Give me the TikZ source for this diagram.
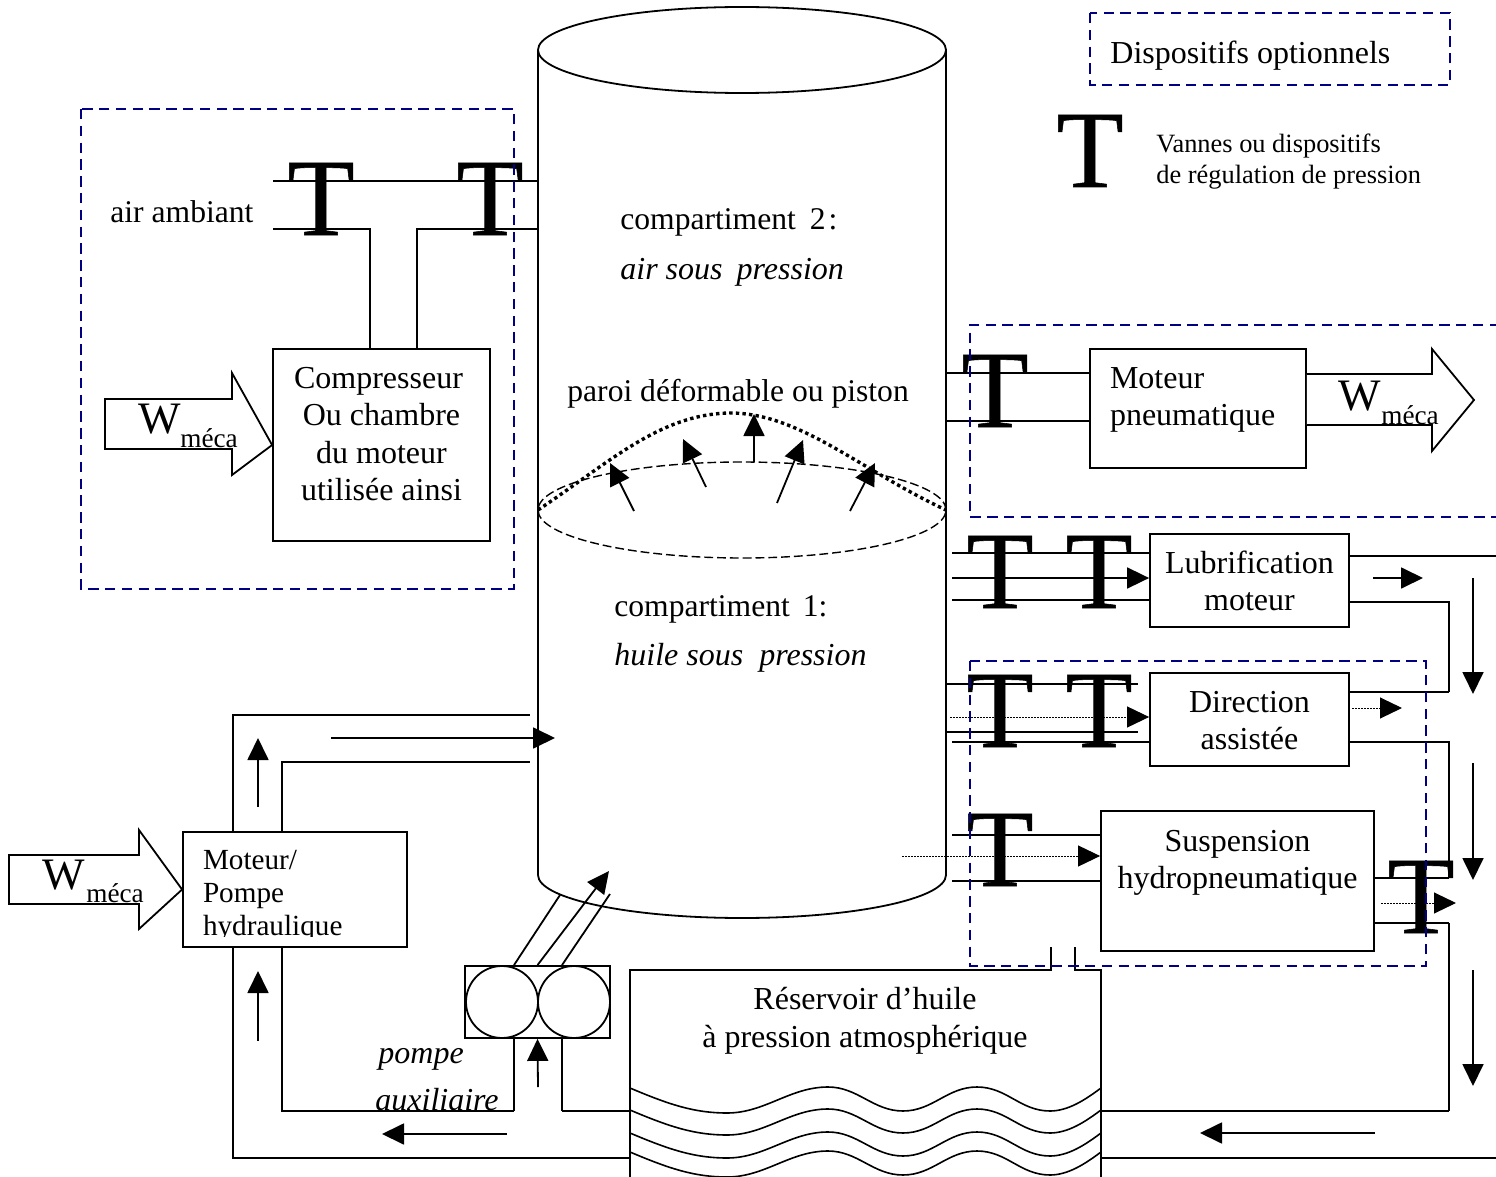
\documentclass[tikz,border=0pt]{standalone}
\usepackage{fontspec}
\setmainfont{Liberation Serif}
\newfontfamily\valvefont[FakeBold=0.5]{Liberation Serif}
\usetikzlibrary{arrows.meta}
\definecolor{optblue}{RGB}{0,0,128}
\tikzset{
  pipe/.style={line width=0.9pt,black},
  flow/.style={line width=0.9pt,-{Triangle[length=11pt,width=10.5pt]}},
  dotflow/.style={line width=0.5pt,dash pattern=on 0.75pt off 0.75pt,-{Triangle[length=11pt,width=10.5pt]}},
  optbox/.style={draw=optblue,line width=1pt,dash pattern=on 5.2pt off 3.2pt},
  devbox/.style={draw,line width=0.9pt,inner xsep=0pt,inner ysep=0pt,align=center,font=\fontsize{16}{18.6}\selectfont},
  leftbox/.style={devbox,inner xsep=10pt,align=left},
  txt/.style={anchor=base west,inner sep=0pt,font=\fontsize{16}{18.6}\selectfont},
  tighttxt/.style={txt,font=\fontsize{15.8}{18.6}\selectfont},
  itxt/.style={txt,font=\fontsize{16}{18.6}\selectfont\itshape},
  smalltxt/.style={txt,font=\fontsize{13.2}{15.6}\selectfont},
  valve/.style={anchor=base,inner sep=0pt,font=\valvefont\fontsize{55}{55}\selectfont},
  wsym/.style={txt,font=\fontsize{22.5}{24}\selectfont},
  wsub/.style={txt,font=\fontsize{13.6}{14}\selectfont},
  wpower/.style={line width=0.9pt,fill=white,draw=black,line join=miter},
}
\begin{document}
\begin{tikzpicture}[x=0.5pt,y=-0.5pt]
\useasboundingbox (0,0) rectangle (1496,1177);

% ---- main vessel
\coordinate (cylTL) at (538,50);
\coordinate (cylTR) at (946,50);
\coordinate (cylBL) at (538,875);
\coordinate (cylBR) at (946,875);
\draw[pipe] (cylTL) -- (cylBL) arc[start angle=180,end angle=360,x radius=102pt,y radius=21.5pt] -- (cylTR);
\draw[pipe] (742,50) ellipse[x radius=102pt,y radius=21.5pt];
\draw[line width=0.7pt,dash pattern=on 4.4pt off 2pt] (742,510) ellipse[x radius=102pt,y radius=24pt];
\draw[line width=1.7pt,dash pattern=on 1.7pt off 1.6pt]
  (cylTL |- 0,510) .. controls (610,462) and (660,414) .. (730,413)
  .. controls (800,413) and (860,470) .. (cylTR |- 0,510);
\node[tighttxt] (c2a) at (620,229) {compartiment\hspace{7pt}2\hspace{1.5pt}:};
\node[itxt] (c2b) at (620,279) {air sous\hspace{7pt}pression};
\node[tighttxt] (paroi) at (567,401) {paroi déformable ou piston};
\node[tighttxt] (c1a) at (614,616) {compartiment\hspace{6.5pt}1:};
\node[itxt] (c1b) at (614,665) {huile sous\hspace{8pt}pression};
\coordinate (p1a) at (634,511); \coordinate (p1b) at (610,463);
\coordinate (p2a) at (706,487); \coordinate (p2b) at (683,439);
\coordinate (p3a) at (754,462); \coordinate (p3b) at (754,414);
\coordinate (p4a) at (777,503); \coordinate (p4b) at (803,440);
\coordinate (p5a) at (850,511); \coordinate (p5b) at (875,463);
\draw[flow] (p1a) -- (p1b);
\draw[flow] (p2a) -- (p2b);
\draw[flow] (p3a) -- (p3b);
\draw[flow] (p4a) -- (p4b);
\draw[flow] (p5a) -- (p5b);

% ---- compressor group
\node[devbox,minimum width=108.5pt,minimum height=96pt] (comp) at (381.5,445)
  {Compresseur\hspace*{3pt}\\Ou chambre\\du moteur\\utilisée ainsi\\[-7.6pt]\mbox{}};
\node[tighttxt] (air) at (110,222) {air ambiant};
\coordinate (airU) at (273,181);
\coordinate (airL) at (273,229);
\coordinate (cmpA) at (370,349);
\coordinate (cmpB) at (417,349);
\draw[pipe] (airU) -- (airU -| cylTL);
\draw[pipe] (airL) -- (airL -| cmpA) -- (cmpA);
\draw[pipe] (cmpB) -- (cmpB |- airL) -- (airL -| cylTL);
\node[valve] (v1) at (321,235) {T};
\node[valve] (v2) at (490,235) {T};
\draw[wpower] (105,399) -- (232,399) -- (232,373) -- (comp.west) -- (232,475) -- (232,449) -- (105,449) -- cycle;
\node[wsym] (w1) at (138,433) {W};
\node[wsub] (m1) at (180,447) {méca};

% ---- pneumatic motor
\node[leftbox,text width=88pt,minimum width=108pt,minimum height=59.5pt] (pneu) at (1198,408.5)
  {Moteur\\pneumatique\\[-6.6pt]\mbox{}};
\coordinate (pnU) at (946,373);
\coordinate (pnL) at (946,421);
\draw[pipe] (pnU) -- (pnU -| pneu.west);
\draw[pipe] (pnL) -- (pnL -| pneu.west);
\node[valve] (v3) at (995,427) {T};
\draw[wpower] (pneu.east |- 0,374) -- (1432,374) -- (1432,349) -- (1474,400) -- (1432,451) -- (1432,425) -- (pneu.east |- 0,425);
\node[wsym] (w2) at (1338,410) {W};
\node[wsub] (m2) at (1381,424) {méca};

% ---- lubrification
\node[devbox,minimum width=99.5pt,minimum height=46.5pt] (lub) at (1249.5,580.5) {Lubrification\\moteur};
\coordinate (luA) at (952,553);
\coordinate (luB) at (952,578);
\coordinate (luC) at (952,600);
\draw[pipe] (luA) -- (luA -| lub.west);
\draw[flow] (luB) -- (luB -| lub.west);
\draw[pipe] (luC) -- (luC -| lub.west);
\node[valve] (v4) at (1000,608) {T};
\node[valve] (v5) at (1099,608) {T};
\coordinate (retR) at (1449,602);
\coordinate (lubOut) at (1496,556);
\coordinate (dirUp) at (1449,692);
\draw[pipe] (lub.east |- lubOut) -- (lubOut);
\draw[pipe] (lub.east |- retR) -- (retR) -- (dirUp);
\coordinate (a1a) at (1373,578); \coordinate (a1b) at (1423,578);
\draw[flow] (a1a) -- (a1b);
\coordinate (a2a) at (1473,578); \coordinate (a2b) at (1473,694);
\draw[flow] (a2a) -- (a2b);

% ---- direction
\node[devbox,minimum width=99.5pt,minimum height=46.5pt] (dir) at (1249.5,719.5) {\rule{0pt}{11.6pt}Direction\\assistée};
\coordinate (diA) at (946,684);  \coordinate (diAe) at (1138,684);
\coordinate (diB) at (946,732);  \coordinate (diBe) at (1138,732);
\coordinate (diC) at (952,742);
\coordinate (diD) at (950,717);
\draw[pipe] (diA) -- (diAe);
\draw[pipe] (diB) -- (diBe);
\draw[pipe] (diC) -- (diC -| dir.west);
\draw[dotflow] (diD) -- (diD -| dir.west);
\node[valve] (v6) at (1000,747) {T};
\node[valve] (v7) at (1099,747) {T};
\draw[pipe] (dir.east |- dirUp) -- (dirUp);
\coordinate (dirDn) at (1449,742);
\coordinate (dirJoin) at (1449,878);
\draw[pipe] (dir.east |- dirDn) -- (dirDn) -- (dirJoin);
\coordinate (a3a) at (1352,708); \coordinate (a3b) at (1402,708);
\draw[dotflow] (a3a) -- (a3b);
\coordinate (a4a) at (1473,763); \coordinate (a4b) at (1473,880);
\draw[flow] (a4a) -- (a4b);

% ---- suspension
\node[devbox,minimum width=136.5pt,minimum height=70pt] (sus) at (1237.5,881) {Suspension\\hydropneumatique\\[3pt]\mbox{}};
\coordinate (suA) at (952,835);
\coordinate (suB) at (952,881);
\coordinate (suD) at (902,856);
\draw[pipe] (suA) -- (suA -| sus.west);
\draw[pipe] (suB) -- (suB -| sus.west);
\draw[dotflow] (suD) -- (suD -| sus.west);
\node[valve] (v8) at (1000,886) {T};
\coordinate (suOutU) at (1449,878);
\coordinate (suOutL) at (1449,923);
\coordinate (retB) at (1449,1111);
\draw[pipe] (sus.east |- suOutU) -- (suOutU);
\draw[pipe] (sus.east |- suOutL) -- (suOutL);
\draw[pipe] (suOutL) -- (retB);
\node[valve] (v9) at (1421,933) {T};
\coordinate (a5a) at (1381,903); \coordinate (a5b) at (1456,903);
\draw[dotflow] (a5a) -- (a5b);
\coordinate (a6a) at (1473,970); \coordinate (a6b) at (1473,1086);
\draw[flow] (a6a) -- (a6b);

% ---- reservoir
\coordinate (resTL) at (630,970);
\coordinate (resTR) at (1101,970);
\coordinate (resBL) at (630,1177);
\coordinate (resBR) at (1101,1177);
\coordinate (stubA) at (1051,970);
\coordinate (stubB) at (1075,970);
\coordinate (stubAt) at (1051,947);
\coordinate (stubBt) at (1075,947);
\draw[pipe] (resBL) -- (resTL) -- (stubA) -- (stubAt);
\draw[pipe] (resBR) -- (resTR) -- (stubB) -- (stubBt);
\node[txt,anchor=base,align=center] (res) at (865,1047) {Réservoir d’huile\\à pression atmosphérique};
\foreach \d in {0,22,45,64}{
  \begin{scope}[shift={(0,\d)}]
    \draw[line width=0.8pt] (630,1088) .. controls (670,1105) and (695,1113) .. (727,1113)
      .. controls (765,1113) and (790,1087) .. (828,1087)
      .. controls (858,1087) and (873,1111) .. (903,1111)
      .. controls (933,1111) and (947,1087) .. (977,1087)
      .. controls (1007,1087) and (1020,1111) .. (1050,1111)
      .. controls (1068,1111) and (1085,1100) .. (1101,1088);
  \end{scope}
}
\coordinate (retC) at (1101,1158);
\coordinate (retCe) at (1496,1158);
\draw[pipe] (resTR |- retB) -- (retB);
\draw[pipe] (retC) -- (retCe);
\coordinate (a7a) at (1375,1133); \coordinate (a7b) at (1200,1133);
\draw[flow] (a7a) -- (a7b);

% ---- hydraulic motor/pump
\node[leftbox,text width=92pt,minimum width=112pt,minimum height=57.5pt,font=\fontsize{14.6}{16.5}\selectfont] (pmp) at (295,889.5)
  {\rule{0pt}{16pt}Moteur/\\Pompe\\hydraulique};
\fill[white] (185,937) rectangle (405,945.5);
\coordinate (hA) at (233,715);
\coordinate (hB) at (282,762);
\coordinate (hAe) at (530,715);
\coordinate (hBe) at (530,762);
\coordinate (hC) at (233,1158);
\coordinate (hD) at (282,1111);
\draw[pipe] (pmp.north -| hA) -- (hA) -- (hAe);
\draw[pipe] (pmp.north -| hB) -- (hB) -- (hBe);
\draw[pipe] (pmp.south -| hA) -- (hC) -- (hC -| resTL);
\coordinate (auxL) at (514,1111);
\coordinate (auxR) at (562,1111);
\draw[pipe] (pmp.south -| hB) -- (hD) -- (auxL);
\draw[pipe] (auxR) -- (auxR -| resTL);
\coordinate (a8a) at (331,738); \coordinate (a8b) at (555,738);
\draw[flow] (a8a) -- (a8b);
\coordinate (a9a) at (258,807); \coordinate (a9b) at (258,738);
\draw[flow] (a9a) -- (a9b);
\coordinate (a10a) at (258,1041); \coordinate (a10b) at (258,971);
\draw[flow] (a10a) -- (a10b);
\coordinate (a11a) at (507,1134); \coordinate (a11b) at (382,1134);
\draw[flow] (a11a) -- (a11b);
\draw[wpower] (9,855) -- (139,855) -- (139,830) -- (pmp.west) -- (139,929) -- (139,904) -- (9,904) -- cycle;
\node[wsym] (w3) at (42,889) {W};
\node[wsub] (m3) at (86,902) {méca};

% ---- auxiliary pump
\node[draw,line width=0.9pt,minimum width=72.5pt,minimum height=36pt,inner sep=0pt] (aux) at (537.5,1002) {};
\node[draw,circle,line width=0.9pt,minimum size=36pt,inner sep=0pt] (g1) at (502,1002) {};
\node[draw,circle,line width=0.9pt,minimum size=36pt,inner sep=0pt] (g2) at (574,1002) {};
\draw[pipe] (aux.south -| auxL) -- (auxL);
\draw[pipe] (aux.south -| auxR) -- (auxR);
\coordinate (a12a) at (538,1087);
\draw[flow] (a12a) -- (aux.south);
\coordinate (o1) at (560,895);
\coordinate (o2) at (609,871);
\coordinate (o3) at (610,894);
\draw[pipe] (aux.north -| auxL) -- (o1);
\draw[flow] (aux.north) -- (o2);
\draw[pipe] (aux.north -| auxR) -- (o3);
\node[itxt] (pa) at (378,1063) {pompe};
\node[itxt] (pb) at (375,1110) {auxiliaire};

% ---- legend
\node[txt] (leg) at (1110,64) {Dispositifs optionnels};
\node[valve] (vleg) at (1090,187) {T};
\node[smalltxt,align=left] (legv) at (1156,184) {Vannes ou dispositifs\\de régulation de pression};

% ---- optional groups
\draw[optbox] (1090,13) rectangle (1450,85);
\draw[optbox] (81,109) rectangle (514,589);
\draw[optbox] (1500,325) -- (970,325) -- (970,517) -- (1500,517);
\draw[optbox] (970,661) rectangle (1426,966);
\end{tikzpicture}
\end{document}
